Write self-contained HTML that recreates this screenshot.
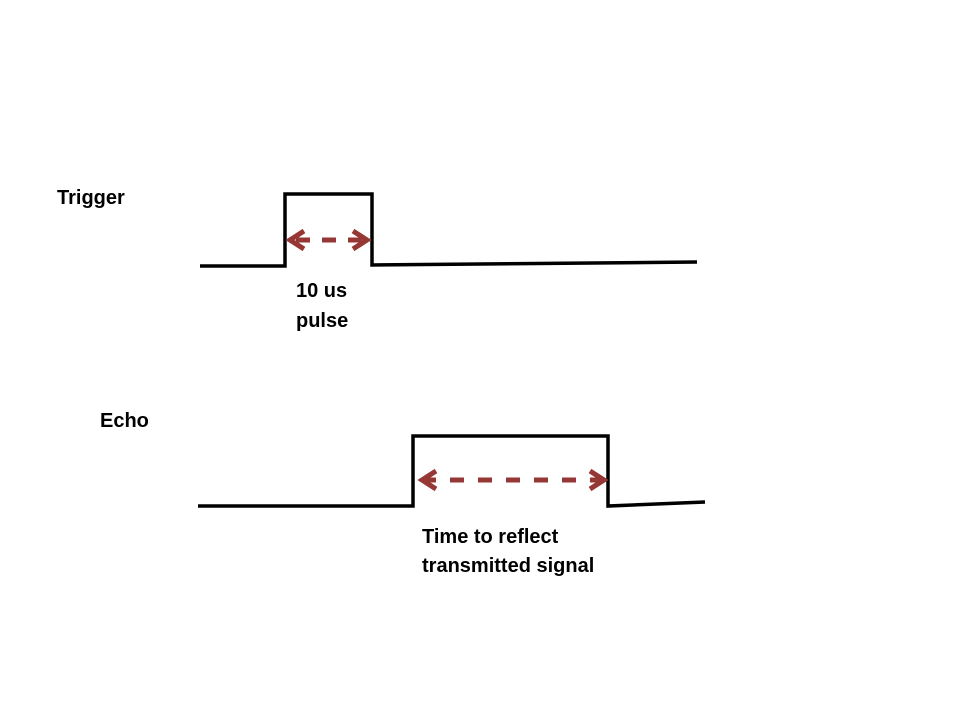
<!DOCTYPE html>
<html><head><meta charset="utf-8"><style>
html,body{margin:0;padding:0;background:#fff;}
svg{display:block}
text{font-family:"Liberation Sans",sans-serif;font-weight:bold;font-size:20px;fill:#000;}
</style></head><body>
<svg width="960" height="720" viewBox="0 0 960 720">
<text x="57" y="204">Trigger</text>
<polyline points="200,266 285,266 285,194 372,194 372,265 697,262" fill="none" stroke="#000" stroke-width="3.5" stroke-linejoin="miter"/>
<g stroke="#953735" stroke-width="5" fill="none">
<line x1="294" y1="240" x2="362" y2="240" stroke-dasharray="14,12" stroke-dashoffset="-2"/>
<polyline points="304,231 290,240 304,249"/>
<polyline points="353,231 367,240 353,249"/>
</g>
<text x="296" y="297">10 us</text>
<text x="296" y="327">pulse</text>

<text x="100" y="427">Echo</text>
<polyline points="198,506 413,506 413,436 608,436 608,506 705,502" fill="none" stroke="#000" stroke-width="3.5" stroke-linejoin="miter"/>
<g stroke="#953735" stroke-width="5" fill="none">
<line x1="426" y1="480" x2="600" y2="480" stroke-dasharray="14,14" stroke-dashoffset="-24"/>
<polyline points="436,471 422,480 436,489"/>
<polyline points="590,471 604,480 590,489"/>
</g>
<text x="422" y="543">Time to reflect</text>
<text x="422" y="572">transmitted signal</text>
</svg>
</body></html>
